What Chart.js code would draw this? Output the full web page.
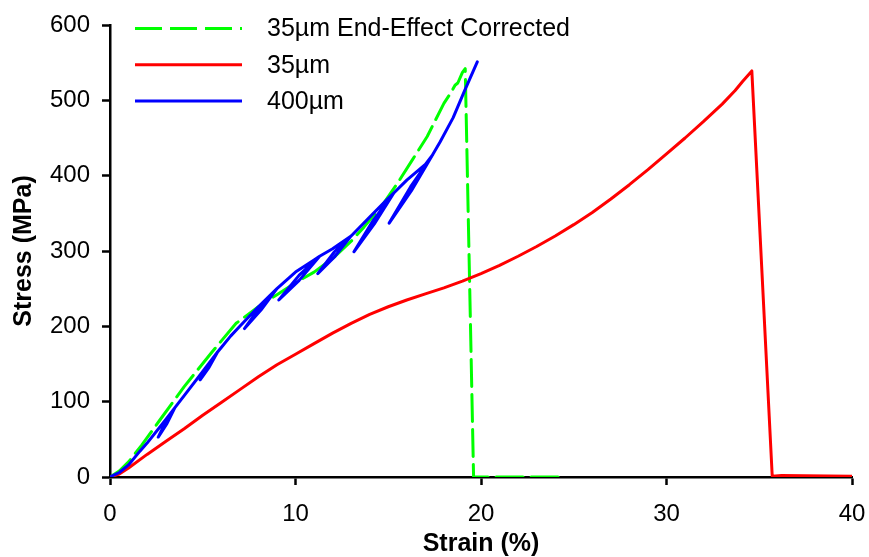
<!DOCTYPE html>
<html>
<head>
<meta charset="utf-8">
<script src="https://cdn.jsdelivr.net/npm/chart.js@4.4.1/dist/chart.umd.min.js"></script>
<style>
  html, body { margin: 0; padding: 0; background: #fff; }
</style>
</head>
<body>
<canvas id="myChart" width="869" height="557"></canvas>
<script>
// 35um end-effect corrected (dashed green)
const greenStrain = [0, 0.5, 1, 1.7, 2.7, 4, 5.5, 6.8, 8, 9, 10, 11, 12, 13, 13.7, 14.6, 15.5, 16.3, 17.1, 18, 18.4, 18.6, 18.75, 19.0, 19.15, 19.6, 24.4];
const greenStress = [0, 8, 20, 42, 76, 120, 166, 204, 226, 242, 258, 272, 290, 313, 332, 358, 390, 421, 452, 496, 511, 520, 523, 537, 542, 0, 0];

// 35um (red)
const redStrain = [0, 0.5, 1, 2, 3, 4, 5, 6, 7, 8, 9, 10, 11, 12, 13, 14, 15, 16, 17, 18, 19, 20, 21, 22, 23, 24, 25, 26, 27, 28, 29, 30, 31, 32, 33, 33.7, 34.1, 34.6, 35.7, 36.2, 40];
const redStress = [0, 4, 12, 30, 47, 64, 82, 99, 116, 133, 149, 163, 177, 191, 204, 216, 226, 235, 243, 251, 260, 270, 281, 293, 306, 320, 335, 351, 369, 388, 408, 429, 450, 472, 495, 513, 525, 539, 1, 2, 1];

// 400um (blue) - loading with unload/reload cycles
const blueStrain = [0, 0.5, 1, 1.6, 2, 3, 3.5, 3.0, 2.6, 3.05, 3.5, 4, 5, 5.8, 5.3, 4.86, 5.35, 5.8, 6, 6.5, 7, 8, 9, 8.1, 7.25, 8.15, 9, 10, 11, 11.3, 10.2, 9.1, 10.2, 11.3, 12, 13, 12.1, 11.2, 12.1, 13, 14, 15, 15.3, 14.2, 13.15, 14.25, 15.3, 16, 17, 17.4, 16.2, 15.05, 16.25, 17.4, 17.8, 18.5, 19.1, 19.8];
const blueStress = [0, 6, 16, 34, 45, 76, 92, 73, 53, 70, 92, 108, 140, 166, 149, 129, 146, 166, 172, 187, 200, 226, 250, 226, 197, 222, 250, 272, 288, 293, 268, 235, 261, 293, 303, 320, 299, 270, 292, 320, 345, 370, 377, 341, 299, 336, 377, 394, 415, 428, 385, 337, 380, 428, 445, 477, 512, 551];

const seriesLabels = ['35\u00b5m End-Effect Corrected', '35\u00b5m', '400\u00b5m'];

function toPoints(xs, ys) {
    return xs.map((x, i) => ({ x: x, y: ys[i] }));
}

const FONT = "'Liberation Sans', Arial, Helvetica, sans-serif";

// legend drawn inside the plot, top left
const insideLegend = {
    id: 'insideLegend',
    afterDraw(chart) {
        const ctx = chart.ctx;
        ctx.save();
        chart.data.datasets.forEach((ds, i) => {
            const y = 28.5 + i * 36.3;
            ctx.beginPath();
            ctx.strokeStyle = ds.borderColor;
            ctx.lineWidth = ds.borderWidth;
            ctx.setLineDash(ds.borderDash || []);
            ctx.moveTo(135, y);
            ctx.lineTo(242, y);
            ctx.stroke();
            ctx.setLineDash([]);
            ctx.fillStyle = '#000';
            ctx.font = '25px ' + FONT;
            ctx.textBaseline = 'middle';
            ctx.textAlign = 'left';
            ctx.fillText(ds.label, 267, y + 1);
        });
        ctx.restore();
    }
};

const ctx = document.getElementById('myChart');

new Chart(ctx, {
    type: 'line',
    data: {
        datasets: [{
            label: seriesLabels[0],
            data: toPoints(greenStrain, greenStress),
            borderColor: '#00ff00',
            borderDash: [27, 8],
            borderWidth: 3,
            order: 3
        }, {
            label: seriesLabels[1],
            data: toPoints(redStrain, redStress),
            borderColor: '#ff0000',
            borderWidth: 3,
            order: 2
        }, {
            label: seriesLabels[2],
            data: toPoints(blueStrain, blueStress),
            borderColor: '#0000ff',
            borderWidth: 3,
            order: 1
        }]
    },
    options: {
        responsive: false,
        animation: false,
        devicePixelRatio: 1,
        elements: {
            point: { radius: 0 },
            line: { tension: 0, fill: false, borderJoinStyle: 'round', borderCapStyle: 'round' }
        },
        layout: { padding: { left: 0, right: 17, top: 25, bottom: 0 } },
        plugins: {
            legend: { display: false },
            tooltip: { enabled: false }
        },
        scales: {
            x: {
                type: 'linear',
                min: 0,
                max: 40,
                afterFit: (s) => { s.height = 80; s.paddingLeft = 0; s.paddingRight = 0; },
                ticks: {
                    stepSize: 10,
                    color: '#000',
                    padding: 15,
                    maxRotation: 0,
                    font: { family: FONT, size: 24 }
                },
                grid: { drawOnChartArea: false, tickLength: 8, tickWidth: 2.5, tickColor: '#000' },
                border: { color: '#000', width: 2.5 },
                title: {
                    display: true,
                    text: 'Strain (%)',
                    color: '#000',
                    padding: { top: 0, bottom: -2 },
                    font: { family: FONT, size: 25, weight: 'bold' }
                }
            },
            y: {
                min: 0,
                max: 600,
                afterFit: (s) => { s.width = 110; s.paddingTop = 0; s.paddingBottom = 0; },
                ticks: {
                    stepSize: 100,
                    color: '#000',
                    padding: 12,
                    font: { family: FONT, size: 24 }
                },
                grid: { drawOnChartArea: false, tickLength: 8, tickWidth: 2.5, tickColor: '#000' },
                border: { color: '#000', width: 2.5 },
                title: {
                    display: true,
                    text: 'Stress (MPa)',
                    color: '#000',
                    padding: { top: 9, bottom: 0 },
                    font: { family: FONT, size: 25, weight: 'bold' }
                }
            }
        }
    },
    plugins: [insideLegend]
});
</script>
</body>
</html>
